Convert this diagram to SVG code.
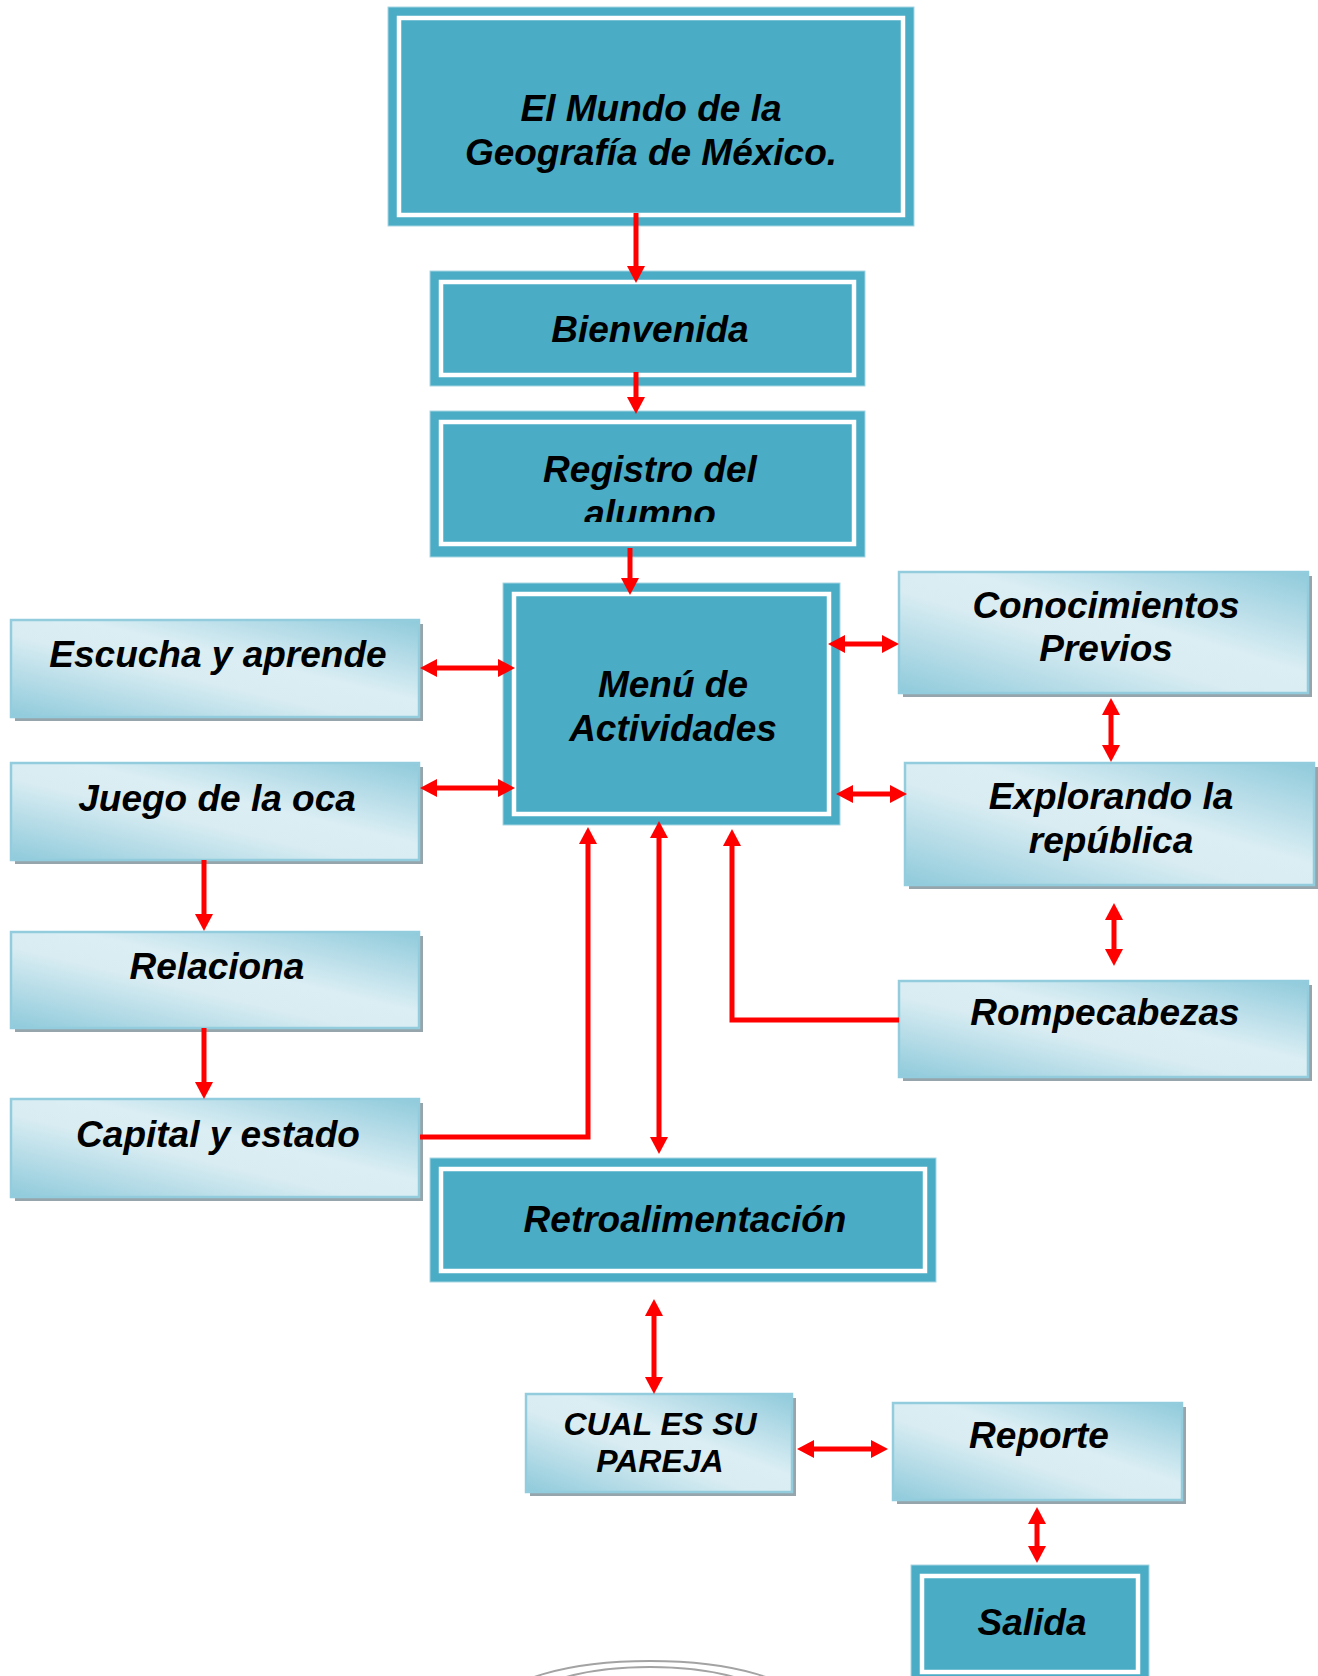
<svg xmlns="http://www.w3.org/2000/svg" width="1318" height="1676" viewBox="0 0 1318 1676">
<style>
.t{font-family:"Liberation Sans",Arial,sans-serif;font-weight:bold;font-style:italic;font-size:37px;fill:#000;text-anchor:middle}
.o{fill:#4bacc6;stroke:#a6d5e2;stroke-width:1}
.i{fill:none;stroke:#fff;stroke-width:4.5}
.lb{fill:url(#lg);stroke:#93cddd;stroke-width:2.5}
.sh{fill:#95a5ab}
.c{fill:none;stroke:#ff0000;stroke-width:5;stroke-linejoin:miter}
.arc{fill:none;stroke:#a3a3a3;stroke-width:2}
</style>
<defs>
<linearGradient id="lg" x1="0" y1="1" x2="1" y2="0">
<stop offset="0" stop-color="#8fcadb"/>
<stop offset="0.42" stop-color="#d8ecf2"/>
<stop offset="0.58" stop-color="#dbeef4"/>
<stop offset="1" stop-color="#8fcadb"/>
</linearGradient>
<marker id="ah" viewBox="0 0 17 18" refX="1" refY="9" markerWidth="17" markerHeight="18" markerUnits="userSpaceOnUse" orient="auto-start-reverse">
<path d="M0,0 L17,9 L0,18 z" fill="#ff0000"/>
</marker>
<clipPath id="regclip"><rect x="430" y="411" width="435" height="111"/></clipPath>
</defs>

<g id="decor">
<ellipse class="arc" cx="650" cy="1705" rx="150" ry="44"/>
<ellipse class="arc" cx="650" cy="1708" rx="128" ry="41"/>
</g>

<g id="n-title">
<rect class="o" x="388" y="7" width="526" height="219"/>
<rect class="i" x="399" y="18" width="504" height="197"/>
<text class="t" x="651" y="121">El Mundo de la</text>
<text class="t" x="651" y="165">Geografía de México.</text>
</g>

<g id="n-bienvenida">
<rect class="o" x="430" y="271" width="435" height="115"/>
<rect class="i" x="441" y="282" width="413" height="93"/>
<text class="t" x="650" y="342">Bienvenida</text>
</g>

<g id="n-registro">
<rect class="o" x="430" y="411" width="435" height="146"/>
<rect class="i" x="441" y="422" width="413" height="122"/>
<g clip-path="url(#regclip)">
<text class="t" x="650" y="482">Registro del</text>
<text class="t" x="650" y="526">alumno</text>
</g>
</g>

<g id="n-menu">
<rect class="o" x="503" y="583" width="337" height="242"/>
<rect class="i" x="514" y="594" width="315" height="220"/>
<text class="t" x="673" y="697">Menú de</text>
<text class="t" x="673" y="741">Actividades</text>
</g>

<g id="n-escucha">
<rect class="sh" x="15" y="624" width="408" height="97"/>
<rect class="lb" x="11" y="620" width="408" height="97"/>
<text class="t" x="218" y="667">Escucha y aprende</text>
</g>

<g id="n-juego">
<rect class="sh" x="15" y="767" width="408" height="97"/>
<rect class="lb" x="11" y="763" width="408" height="97"/>
<text class="t" x="217" y="811">Juego de la oca</text>
</g>

<g id="n-relaciona">
<rect class="sh" x="15" y="936" width="408" height="96"/>
<rect class="lb" x="11" y="932" width="408" height="96"/>
<text class="t" x="217" y="979">Relaciona</text>
</g>

<g id="n-capital">
<rect class="sh" x="15" y="1103" width="408" height="98"/>
<rect class="lb" x="11" y="1099" width="408" height="98"/>
<text class="t" x="218" y="1147">Capital y estado</text>
</g>

<g id="n-conocimientos">
<rect class="sh" x="903" y="576" width="409" height="121"/>
<rect class="lb" x="899" y="572" width="409" height="121"/>
<text class="t" x="1106" y="618">Conocimientos</text>
<text class="t" x="1106" y="661">Previos</text>
</g>

<g id="n-explorando">
<rect class="sh" x="909" y="767" width="409" height="122"/>
<rect class="lb" x="905" y="763" width="409" height="122"/>
<text class="t" x="1111" y="809">Explorando la</text>
<text class="t" x="1111" y="853">república</text>
</g>

<g id="n-rompecabezas">
<rect class="sh" x="903" y="985" width="409" height="96"/>
<rect class="lb" x="899" y="981" width="409" height="96"/>
<text class="t" x="1105" y="1025">Rompecabezas</text>
</g>

<g id="n-retro">
<rect class="o" x="430" y="1158" width="506" height="124"/>
<rect class="i" x="441" y="1169" width="484" height="102"/>
<text class="t" x="685" y="1232">Retroalimentación</text>
</g>

<g id="n-cual">
<rect class="sh" x="530" y="1398" width="266" height="98"/>
<rect class="lb" x="526" y="1394" width="266" height="98"/>
<text class="t" x="660" y="1435" style="font-size:32px">CUAL ES SU</text>
<text class="t" x="660" y="1472" style="font-size:32px">PAREJA</text>
</g>

<g id="n-reporte">
<rect class="sh" x="897" y="1407" width="289" height="97"/>
<rect class="lb" x="893" y="1403" width="289" height="97"/>
<text class="t" x="1039" y="1448">Reporte</text>
</g>

<g id="n-salida">
<rect class="o" x="911" y="1565" width="238" height="118"/>
<rect class="i" x="922" y="1576" width="216" height="96"/>
<text class="t" x="1032" y="1635">Salida</text>
</g>

<g id="connectors">
<path class="c" d="M636,213 V267" marker-end="url(#ah)"/>
<path class="c" d="M636,372 V398" marker-end="url(#ah)"/>
<path class="c" d="M630,548 V579" marker-end="url(#ah)"/>
<path class="c" d="M436,668 H499" marker-start="url(#ah)" marker-end="url(#ah)"/>
<path class="c" d="M436,788 H499" marker-start="url(#ah)" marker-end="url(#ah)"/>
<path class="c" d="M844,644 H883" marker-start="url(#ah)" marker-end="url(#ah)"/>
<path class="c" d="M852,794 H891" marker-start="url(#ah)" marker-end="url(#ah)"/>
<path class="c" d="M1111,714 V746" marker-start="url(#ah)" marker-end="url(#ah)"/>
<path class="c" d="M1114,919 V950" marker-start="url(#ah)" marker-end="url(#ah)"/>
<path class="c" d="M204,860 V915" marker-end="url(#ah)"/>
<path class="c" d="M204,1028 V1083" marker-end="url(#ah)"/>
<path class="c" d="M420,1137 H588 V843" marker-end="url(#ah)"/>
<path class="c" d="M659,837 V1138" marker-start="url(#ah)" marker-end="url(#ah)"/>
<path class="c" d="M899,1020 H732 V845" marker-end="url(#ah)"/>
<path class="c" d="M654,1315 V1378" marker-start="url(#ah)" marker-end="url(#ah)"/>
<path class="c" d="M813,1449 H872" marker-start="url(#ah)" marker-end="url(#ah)"/>
<path class="c" d="M1037,1523 V1547" marker-start="url(#ah)" marker-end="url(#ah)"/>
</g>
</svg>
